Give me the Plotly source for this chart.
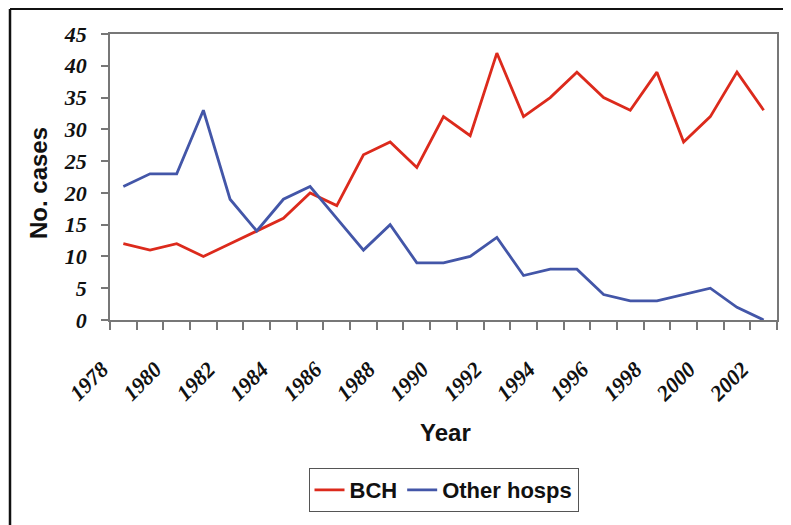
import plotly.graph_objects as go

years = list(range(1978, 2003))
bch = [12, 11, 12, 10, 12, 14, 16, 20, 18, 26, 28, 24, 32, 29, 42, 32, 35, 39, 35, 33, 39, 28, 32, 39, 33]
other = [21, 23, 23, 33, 19, 14, 19, 21, 16, 11, 15, 9, 9, 10, 13, 7, 8, 8, 4, 3, 3, 4, 5, 2, 0]

# tick marks sit on category boundaries; labels every other year
tick_pos = [y - 0.5 for y in years] + [years[-1] + 0.5]
tick_txt = [str(y) if (y - years[0]) % 2 == 0 else "" for y in years] + [""]

# page has an 8px body margin, so the figure is drawn 8px in from the window edge
OFF = 8
W, H = 783, 517
L, R, T, B = 102, 14, 26, 205
pw, ph = W - L - R, H - T - B

def px(x):  # window x -> paper
    return (x - OFF - L) / pw

def py(y):  # window y -> paper
    return (H - B - (y - OFF)) / ph

fig = go.Figure()
fig.add_trace(go.Scatter(x=years, y=bch, mode="lines", name="BCH",
                         line=dict(color="#DC2A1C", width=2.8), cliponaxis=False))
fig.add_trace(go.Scatter(x=years, y=other, mode="lines", name="Other hosps",
                         line=dict(color="#4356A8", width=2.8), cliponaxis=False))

tickfont = dict(family="Liberation Serif", size=22, color="#111111", weight="bold", style="italic")

fig.update_layout(
    width=W, height=H,
    margin=dict(l=L, r=R, t=T, b=B),
    paper_bgcolor="white", plot_bgcolor="white",
    showlegend=True,
    legend=dict(orientation="h", x=0.5, xanchor="center", y=py(490), yanchor="middle",
                font=dict(family="Arial", size=22, color="#111111", weight="bold"),
                bordercolor="#555555", borderwidth=1, bgcolor="white",
                itemwidth=30, tracegroupgap=0),
    xaxis=dict(range=[1977.5, 2002.5], tickmode="array", tickvals=tick_pos, ticktext=tick_txt,
               ticks="outside", ticklen=8, tickwidth=1.5, tickcolor="#777777",
               tickangle=-45, tickfont=tickfont, ticklabelstandoff=18, ticklabelshift=-8,
               showline=True, linecolor="#777777", linewidth=1.5, mirror=True,
               showgrid=False, zeroline=False),
    yaxis=dict(range=[0, 45], dtick=5, tick0=0,
               ticks="outside", ticklen=7, tickwidth=1.5, tickcolor="#777777",
               tickfont=tickfont, ticklabelstandoff=10,
               showline=True, linecolor="#777777", linewidth=1.5, mirror=True,
               showgrid=False, zeroline=False),
    annotations=[
        dict(text="Year", x=px(445), y=py(433), xref="paper", yref="paper",
             xanchor="center", yanchor="middle", showarrow=False,
             font=dict(family="Arial", size=24, color="#111111", weight="bold")),
        dict(text="No. cases", x=px(38), y=py(183), xref="paper", yref="paper",
             xanchor="center", yanchor="middle", showarrow=False, textangle=-90,
             font=dict(family="Arial", size=24, color="#111111", weight="bold")),
    ],
    shapes=[
        dict(type="line", xref="paper", yref="paper", x0=px(10), x1=px(800), y0=py(9), y1=py(9),
             line=dict(color="#111111", width=2)),
        dict(type="line", xref="paper", yref="paper", x0=px(10), x1=px(10), y0=py(9), y1=py(540),
             line=dict(color="#111111", width=2.5)),
    ],
)

fig.write_html("out.html")
